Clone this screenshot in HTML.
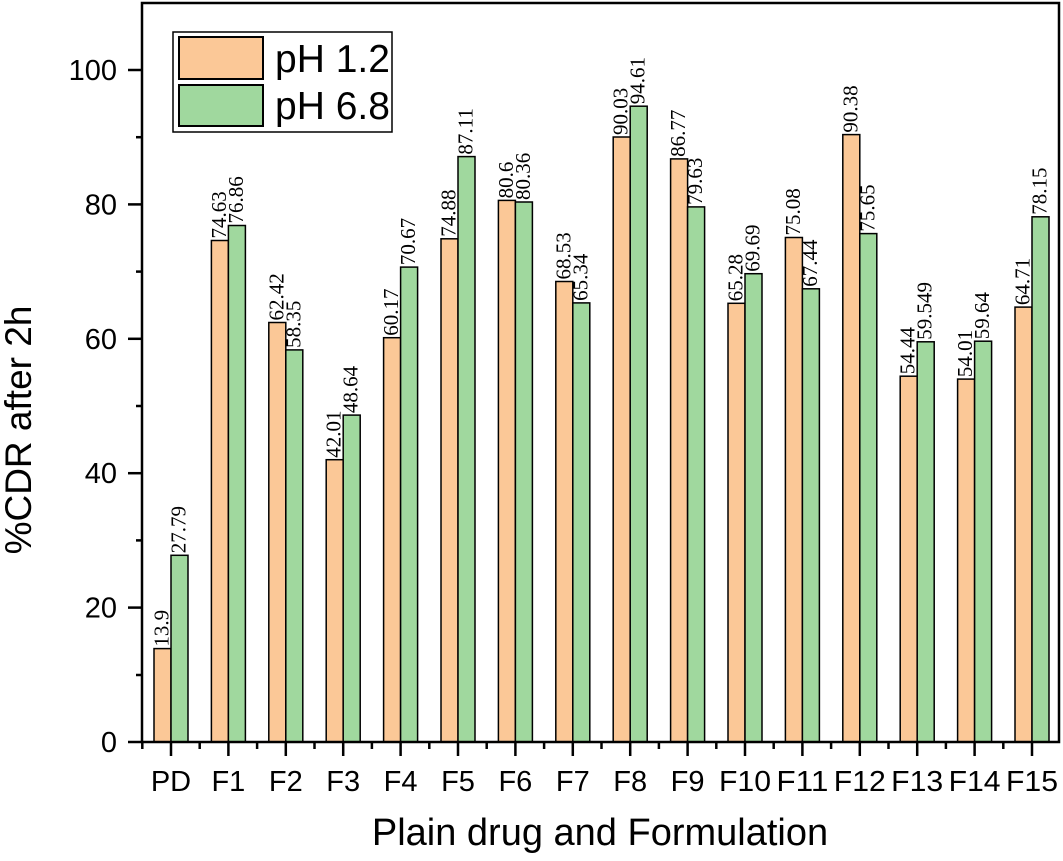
<!DOCTYPE html>
<html><head><meta charset="utf-8"><style>body{margin:0;background:#fff}svg{display:block}</style></head>
<body>
<svg width="1063" height="861" viewBox="0 0 1063 861" xmlns="http://www.w3.org/2000/svg" font-family="Liberation Sans, sans-serif">
<rect width="1063" height="861" fill="#fff"/>
<g stroke="#000" stroke-width="1.5">
<g fill="#FBC897">
<rect x="154" y="648.6" width="17" height="93.4"/>
<rect x="211.4" y="240.5" width="17" height="501.5"/>
<rect x="268.8" y="322.5" width="17" height="419.5"/>
<rect x="326.2" y="459.7" width="17" height="282.3"/>
<rect x="383.6" y="337.7" width="17" height="404.3"/>
<rect x="441" y="238.8" width="17" height="503.2"/>
<rect x="498.4" y="200.4" width="17" height="541.6"/>
<rect x="555.8" y="281.5" width="17" height="460.5"/>
<rect x="613.2" y="137" width="17" height="605"/>
<rect x="670.6" y="158.9" width="17" height="583.1"/>
<rect x="728" y="303.3" width="17" height="438.7"/>
<rect x="785.4" y="237.5" width="17" height="504.5"/>
<rect x="842.8" y="134.6" width="17" height="607.4"/>
<rect x="900.2" y="376.2" width="17" height="365.8"/>
<rect x="957.6" y="379.1" width="17" height="362.9"/>
<rect x="1015" y="307.1" width="17" height="434.9"/>
</g>
<g fill="#A0D89E">
<rect x="171" y="555.3" width="17" height="186.7"/>
<rect x="228.4" y="225.5" width="17" height="516.5"/>
<rect x="285.8" y="349.9" width="17" height="392.1"/>
<rect x="343.2" y="415.1" width="17" height="326.9"/>
<rect x="400.6" y="267.1" width="17" height="474.9"/>
<rect x="458" y="156.6" width="17" height="585.4"/>
<rect x="515.4" y="202" width="17" height="540"/>
<rect x="572.8" y="302.9" width="17" height="439.1"/>
<rect x="630.2" y="106.2" width="17" height="635.8"/>
<rect x="687.6" y="206.9" width="17" height="535.1"/>
<rect x="745" y="273.7" width="17" height="468.3"/>
<rect x="802.4" y="288.8" width="17" height="453.2"/>
<rect x="859.8" y="233.6" width="17" height="508.4"/>
<rect x="917.2" y="341.8" width="17" height="400.2"/>
<rect x="974.6" y="341.2" width="17" height="400.8"/>
<rect x="1032" y="216.8" width="17" height="525.2"/>
</g>
</g>
<g font-family="Liberation Serif, serif" font-size="21" fill="#000">
<text transform="translate(168.5,646.6) rotate(-90)">13.9</text>
<text transform="translate(185.5,553.3) rotate(-90)">27.79</text>
<text transform="translate(225.9,238.5) rotate(-90)">74.63</text>
<text transform="translate(242.9,223.5) rotate(-90)">76.86</text>
<text transform="translate(283.3,320.5) rotate(-90)">62.42</text>
<text transform="translate(300.3,347.9) rotate(-90)">58.35</text>
<text transform="translate(340.7,457.7) rotate(-90)">42.01</text>
<text transform="translate(357.7,413.1) rotate(-90)">48.64</text>
<text transform="translate(398.1,335.7) rotate(-90)">60.17</text>
<text transform="translate(415.1,265.1) rotate(-90)">70.67</text>
<text transform="translate(455.5,236.8) rotate(-90)">74.88</text>
<text transform="translate(472.5,154.6) rotate(-90)">87.11</text>
<text transform="translate(512.9,198.4) rotate(-90)">80.6</text>
<text transform="translate(529.9,200) rotate(-90)">80.36</text>
<text transform="translate(570.3,279.5) rotate(-90)">68.53</text>
<text transform="translate(587.3,300.9) rotate(-90)">65.34</text>
<text transform="translate(627.7,135) rotate(-90)">90.03</text>
<text transform="translate(644.7,104.2) rotate(-90)">94.61</text>
<text transform="translate(685.1,156.9) rotate(-90)">86.77</text>
<text transform="translate(702.1,204.9) rotate(-90)">79.63</text>
<text transform="translate(742.5,301.3) rotate(-90)">65.28</text>
<text transform="translate(759.5,271.7) rotate(-90)">69.69</text>
<text transform="translate(799.9,235.5) rotate(-90)">75.08</text>
<text transform="translate(816.9,286.8) rotate(-90)">67.44</text>
<text transform="translate(857.3,132.6) rotate(-90)">90.38</text>
<text transform="translate(874.3,231.6) rotate(-90)">75.65</text>
<text transform="translate(914.7,374.2) rotate(-90)">54.44</text>
<text transform="translate(931.7,339.8) rotate(-90)">59.549</text>
<text transform="translate(972.1,377.1) rotate(-90)">54.01</text>
<text transform="translate(989.1,339.2) rotate(-90)">59.64</text>
<text transform="translate(1029.5,305.1) rotate(-90)">64.71</text>
<text transform="translate(1046.5,214.8) rotate(-90)">78.15</text>
</g>
<rect x="142" y="3" width="917" height="739" fill="none" stroke="#000" stroke-width="2.5"/>
<g stroke="#000" stroke-width="2.5">
<line x1="128" y1="742" x2="142" y2="742"/><line x1="136" y1="675" x2="142" y2="675"/>
<line x1="128" y1="607.6" x2="142" y2="607.6"/><line x1="136" y1="540.4" x2="142" y2="540.4"/>
<line x1="128" y1="473.2" x2="142" y2="473.2"/><line x1="136" y1="406" x2="142" y2="406"/>
<line x1="128" y1="338.8" x2="142" y2="338.8"/><line x1="136" y1="271.6" x2="142" y2="271.6"/>
<line x1="128" y1="204.4" x2="142" y2="204.4"/><line x1="136" y1="137.2" x2="142" y2="137.2"/>
<line x1="128" y1="70" x2="142" y2="70"/>
</g>
<g font-size="29" text-anchor="end" fill="#000">
<text x="117" y="752">0</text>
<text x="117" y="617.6">20</text>
<text x="117" y="483.2">40</text>
<text x="117" y="348.8">60</text>
<text x="117" y="214.4">80</text>
<text x="117" y="80">100</text>
</g>
<g stroke="#000" stroke-width="2.5">
<line x1="171" y1="742" x2="171" y2="756"/><line x1="228.4" y1="742" x2="228.4" y2="756"/>
<line x1="285.8" y1="742" x2="285.8" y2="756"/><line x1="343.2" y1="742" x2="343.2" y2="756"/>
<line x1="400.6" y1="742" x2="400.6" y2="756"/><line x1="458" y1="742" x2="458" y2="756"/>
<line x1="515.4" y1="742" x2="515.4" y2="756"/><line x1="572.8" y1="742" x2="572.8" y2="756"/>
<line x1="630.2" y1="742" x2="630.2" y2="756"/><line x1="687.6" y1="742" x2="687.6" y2="756"/>
<line x1="745" y1="742" x2="745" y2="756"/><line x1="802.4" y1="742" x2="802.4" y2="756"/>
<line x1="859.8" y1="742" x2="859.8" y2="756"/><line x1="917.2" y1="742" x2="917.2" y2="756"/>
<line x1="974.6" y1="742" x2="974.6" y2="756"/><line x1="1032" y1="742" x2="1032" y2="756"/>
<line x1="142.3" y1="742" x2="142.3" y2="749"/><line x1="199.7" y1="742" x2="199.7" y2="749"/>
<line x1="257.1" y1="742" x2="257.1" y2="749"/><line x1="314.5" y1="742" x2="314.5" y2="749"/>
<line x1="371.9" y1="742" x2="371.9" y2="749"/><line x1="429.3" y1="742" x2="429.3" y2="749"/>
<line x1="486.7" y1="742" x2="486.7" y2="749"/><line x1="544.1" y1="742" x2="544.1" y2="749"/>
<line x1="601.5" y1="742" x2="601.5" y2="749"/><line x1="658.9" y1="742" x2="658.9" y2="749"/>
<line x1="716.3" y1="742" x2="716.3" y2="749"/><line x1="773.7" y1="742" x2="773.7" y2="749"/>
<line x1="831.1" y1="742" x2="831.1" y2="749"/><line x1="888.5" y1="742" x2="888.5" y2="749"/>
<line x1="945.9" y1="742" x2="945.9" y2="749"/><line x1="1003.3" y1="742" x2="1003.3" y2="749"/>
</g>
<g font-size="29" text-anchor="middle" fill="#000">
<text x="171" y="791">PD</text><text x="228.4" y="791">F1</text><text x="285.8" y="791">F2</text>
<text x="343.2" y="791">F3</text><text x="400.6" y="791">F4</text><text x="458" y="791">F5</text>
<text x="515.4" y="791">F6</text><text x="572.8" y="791">F7</text><text x="630.2" y="791">F8</text>
<text x="687.6" y="791">F9</text><text x="745" y="791" textLength="52" lengthAdjust="spacingAndGlyphs">F10</text><text x="802.4" y="791" textLength="52" lengthAdjust="spacingAndGlyphs">F11</text>
<text x="859.8" y="791" textLength="52" lengthAdjust="spacingAndGlyphs">F12</text><text x="917.2" y="791" textLength="52" lengthAdjust="spacingAndGlyphs">F13</text><text x="974.6" y="791" textLength="52" lengthAdjust="spacingAndGlyphs">F14</text>
<text x="1032" y="791" textLength="52" lengthAdjust="spacingAndGlyphs">F15</text>
</g>
<text x="600" y="845" font-size="38" text-anchor="middle">Plain drug and Formulation</text>
<text transform="translate(31,430) rotate(-90)" font-size="37" text-anchor="middle">%CDR after 2h</text>
<rect x="173" y="32" width="219" height="100" fill="#fff" stroke="#000" stroke-width="1.5"/>
<rect x="179" y="37" width="84" height="42" fill="#FBC897" stroke="#000" stroke-width="2"/>
<rect x="179" y="85" width="84" height="41" fill="#A0D89E" stroke="#000" stroke-width="2"/>
<text x="275" y="72" font-size="39">pH 1.2</text>
<text x="275" y="119" font-size="39">pH 6.8</text>
</svg>
</body></html>
